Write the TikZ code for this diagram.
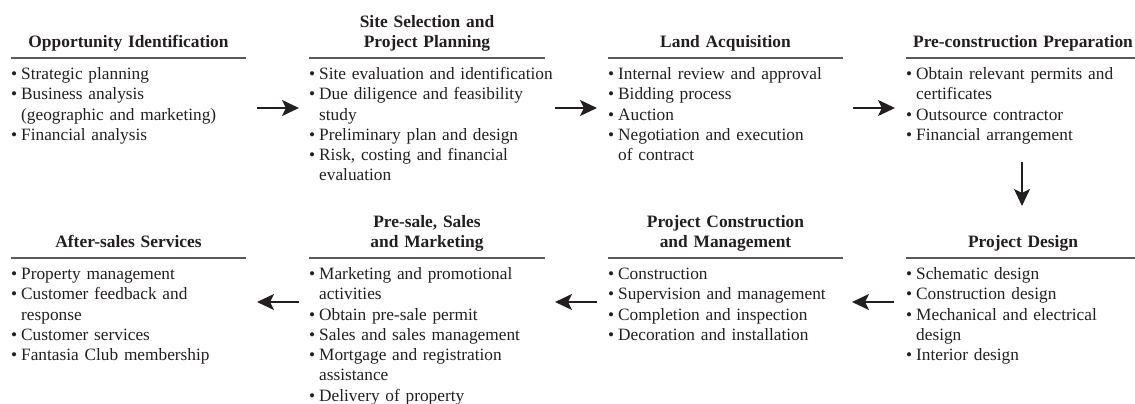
\documentclass[tikz,border=0pt]{standalone}
\usepackage{fontspec}
\setmainfont{Liberation Serif}
\usetikzlibrary{arrows.meta}
\definecolor{ink}{HTML}{231F20}
\definecolor{rulegray}{HTML}{5A5A5A}
\newcommand{\bl}{\makebox[10pt][l]{\textbullet}}
\newcommand{\ind}{\hspace*{10pt}}
\tikzset{
  head/.style={anchor=south, inner sep=0pt, align=center, text width=240pt,
    font=\fontsize{17.4}{20.3}\selectfont\bfseries, text=ink},
  body/.style={anchor=north west, inner sep=0pt, align=left, text width=250pt,
    font=\fontsize{17.3}{20.3}\selectfont, text=ink},
  hrule/.style={draw=rulegray, line width=1.7pt},
  arr/.style={draw=ink, line width=1.4pt, -{Stealth[length=17pt,width=16pt,inset=4pt]}},
}
\begin{document}
\begin{tikzpicture}[x=1pt,y=-1pt]
\useasboundingbox (0,0) rectangle (1135,404);
% ---------- Row 1 ----------
\node[head] (h1) at (128.5,54) {Opportunity Identification\strut};
\node[head] (h2) at (427,54) {Site Selection and\\Project Planning\strut};
\node[head] (h3) at (725.5,54) {Land Acquisition\strut};
\node[head] (h4) at (1023,54) {Pre-construction Preparation\strut};
\draw[hrule] (11,58) -- (246,58);
\draw[hrule] (309,58) -- (545,58);
\draw[hrule] (608,58) -- (843,58);
\draw[hrule] (906,58) -- (1141,58);
\node[body] (b1) at (11,65) {\strut\bl Strategic planning\\\bl Business analysis\\\ind(geographic and marketing)\\\bl Financial analysis};
\node[body] (b2) at (309,65) {\strut\bl Site evaluation and identification\\\bl Due diligence and feasibility\\\ind study\\\bl Preliminary plan and design\\\bl Risk, costing and financial\\\ind evaluation};
\node[body] (b3) at (608,65) {\strut\bl Internal review and approval\\\bl Bidding process\\\bl Auction\\\bl Negotiation and execution\\\ind of contract};
\node[body] (b4) at (906,65) {\strut\bl Obtain relevant permits and\\\ind certificates\\\bl Outsource contractor\\\bl Financial arrangement};
% ---------- Row 2 ----------
\node[head] (h5) at (128.5,254) {After-sales Services\strut};
\node[head] (h6) at (427,254) {Pre-sale, Sales\\and Marketing\strut};
\node[head] (h7) at (725.5,254) {Project Construction\\and Management\strut};
\node[head] (h8) at (1023,254) {Project Design\strut};
\draw[hrule] (11,258) -- (246,258);
\draw[hrule] (309,258) -- (545,258);
\draw[hrule] (608,258) -- (843,258);
\draw[hrule] (906,258) -- (1141,258);
\node[body] (b5) at (11,265) {\strut\bl Property management\\\bl Customer feedback and\\\ind response\\\bl Customer services\\\bl Fantasia Club membership};
\node[body] (b6) at (309,265) {\strut\bl Marketing and promotional\\\ind activities\\\bl Obtain pre-sale permit\\\bl Sales and sales management\\\bl Mortgage and registration\\\ind assistance\\\bl Delivery of property};
\node[body] (b7) at (608,265) {\strut\bl Construction\\\bl Supervision and management\\\bl Completion and inspection\\\bl Decoration and installation};
\node[body] (b8) at (906,265) {\strut\bl Schematic design\\\bl Construction design\\\bl Mechanical and electrical\\\ind design\\\bl Interior design};
% ---------- connectors ----------
\coordinate (a1s) at (257,108); \coordinate (a1e) at (299,108);
\coordinate (a2s) at (555,108); \coordinate (a2e) at (597,108);
\coordinate (a3s) at (853,108); \coordinate (a3e) at (895,108);
\coordinate (a4s) at (1022,162); \coordinate (a4e) at (1022,206);
\coordinate (a5s) at (894,302); \coordinate (a5e) at (852,302);
\coordinate (a6s) at (597,302); \coordinate (a6e) at (555,302);
\coordinate (a7s) at (299,302); \coordinate (a7e) at (257,302);
\draw[arr] (a1s) -- (a1e);
\draw[arr] (a2s) -- (a2e);
\draw[arr] (a3s) -- (a3e);
\draw[arr] (a4s) -- (a4e);
\draw[arr] (a5s) -- (a5e);
\draw[arr] (a6s) -- (a6e);
\draw[arr] (a7s) -- (a7e);
\end{tikzpicture}
\end{document}
